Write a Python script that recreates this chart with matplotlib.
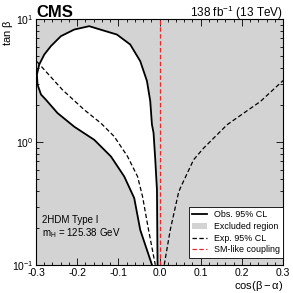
import matplotlib
matplotlib.use("Agg")
import matplotlib.pyplot as plt
from matplotlib.lines import Line2D
from matplotlib.patches import Patch
from matplotlib.ticker import MultipleLocator, LogLocator, NullFormatter

plt.rcParams['font.family'] = ['Liberation Sans', 'DejaVu Sans']
plt.rcParams['mathtext.fontset'] = 'custom'
plt.rcParams['mathtext.rm'] = 'Liberation Sans'
plt.rcParams['mathtext.it'] = 'Liberation Sans:italic'
plt.rcParams['mathtext.bf'] = 'Liberation Sans:bold'
plt.rcParams['mathtext.default'] = 'regular'

# observed 95% CL contour (allowed region inside), clockwise from bottom right
obs_x = [-0.0049, -0.0063, -0.0104, -0.0146, -0.0185, -0.0226, -0.0306, -0.0469, -0.0712,
         -0.1035, -0.144, -0.1708, -0.2072, -0.2395, -0.2638, -0.280, -0.2922, -0.2978,
         -0.2963, -0.288, -0.276, -0.2478, -0.2072, -0.1586, -0.118, -0.0857, -0.0615,
         -0.0469, -0.0185]
obs_y = [0.101, 0.411, 0.721, 1.195, 1.395, 2.16, 3.15, 4.57, 6.24,
         7.52, 8.26, 8.80, 8.26, 7.30, 6.06, 5.17, 4.29, 3.56,
         2.95, 2.45, 2.22, 1.73, 1.34, 1.048, 0.767, 0.527, 0.352,
         0.194, 0.101]

# expected 95% CL, left branch
exp_left_x = [-0.298, -0.2356, -0.183, -0.1423, -0.110, -0.0777, -0.0534, -0.0413, -0.0267, -0.0104]
exp_left_y = [4.54, 2.67, 1.84, 1.43, 1.115, 0.767, 0.527, 0.362, 0.194, 0.101]

# expected 95% CL, right branch
exp_right_x = [0.0114, 0.026, 0.046, 0.0503, 0.0826, 0.107, 0.164, 0.245, 0.300]
exp_right_y = [0.101, 0.194, 0.389, 0.424, 0.721, 0.897, 1.39, 2.15, 3.18]

sm_x = 0.0

fig = plt.figure(figsize=(2.93, 2.93), dpi=100)
ax = fig.add_axes([0.1229, 0.0945, 0.8433, 0.8395])
ax.set_facecolor('#d3d3d3')

ax.fill(obs_x + [obs_x[-1], obs_x[0]], obs_y + [0.05, 0.05], color='white', lw=0, zorder=1)
ax.plot(obs_x, obs_y, color='black', lw=1.3, zorder=3, solid_joinstyle='round')
dash = (0, (3.5, 2))
ax.plot(exp_left_x, exp_left_y, color='black', lw=0.9, ls=dash, zorder=3)
ax.plot(exp_right_x, exp_right_y, color='black', lw=0.9, ls=dash, zorder=3)
ax.axvline(sm_x, color='#e8282b', lw=0.9, ls=dash, zorder=2)

ax.set_xlim(-0.3, 0.3)
ax.set_yscale('log')
ax.set_ylim(0.1, 10)

ax.xaxis.set_minor_locator(MultipleLocator(0.02))
ax.yaxis.set_major_locator(LogLocator(base=10))
ax.yaxis.set_minor_locator(LogLocator(base=10, subs=range(2, 10)))
ax.yaxis.set_minor_formatter(NullFormatter())
ax.set_xticks([-0.3, -0.2, -0.1, 0.0, 0.1, 0.2, 0.3])
ax.set_xticklabels(['-0.3', '-0.2', '-0.1', '0.0', '0.1', '0.2', '0.3'])
ax.tick_params(which='both', direction='in', top=True, right=True, labelsize=7.5, pad=2)
ax.tick_params(which='major', length=5, width=0.6)
ax.tick_params(which='minor', length=2.5, width=0.6)
for s in ax.spines.values():
    s.set_linewidth(0.8)

ax.set_xlabel(r'cos($\beta - \alpha$)', fontsize=8, loc='right', labelpad=1)
fig.text(0.027, 0.934, r'tan $\beta$', fontsize=8, rotation=90, ha='center', va='top')

fig.text(0.1229, 0.942, 'CMS', fontsize=12, fontweight='bold', ha='left', va='baseline')
fig.text(0.966, 0.942, r'138 fb$^{-1}$ (13 TeV)', fontsize=8.5, ha='right', va='baseline')

ax.text(0.025, 0.185, '2HDM Type I', transform=ax.transAxes, fontsize=7, ha='left', va='center')
ax.text(0.025, 0.13, r'm$_{H}$ = 125.38 GeV', transform=ax.transAxes, fontsize=7, ha='left', va='center')

handles = [Line2D([], [], color='black', lw=1.3),
           Patch(facecolor='#d3d3d3', edgecolor='none'),
           Line2D([], [], color='black', lw=0.9, ls=dash),
           Line2D([], [], color='#e8282b', lw=0.9, ls=dash)]
labels = ['Obs. 95% CL', 'Excluded region', 'Exp. 95% CL', 'SM-like coupling']
leg = ax.legend(handles, labels, loc='lower right', bbox_to_anchor=(1.0, 0.03), fontsize=6.4,
                frameon=True, fancybox=False, edgecolor='black', framealpha=1,
                handlelength=1.7, handletextpad=0.7, labelspacing=0.3, borderpad=0.4,
                borderaxespad=0)
leg.get_frame().set_linewidth(0.6)
leg.set_zorder(5)

fig.savefig('out.png', dpi=100)
